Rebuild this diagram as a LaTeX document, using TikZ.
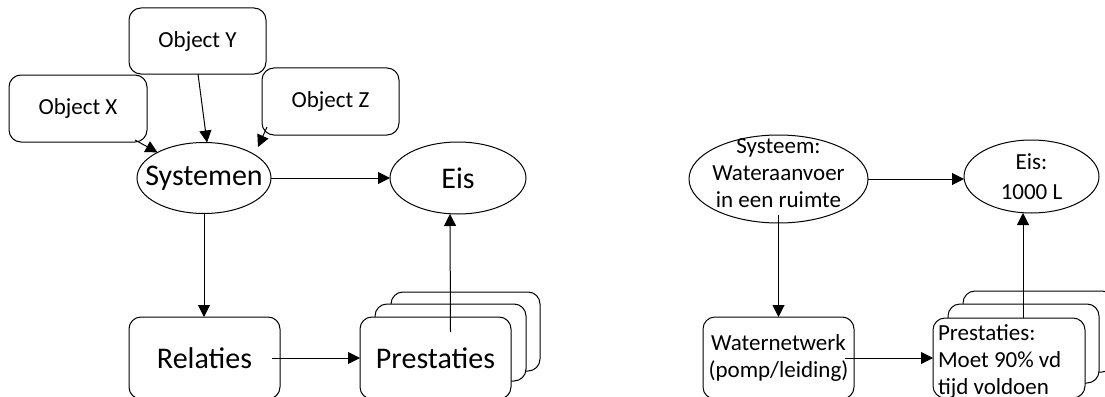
\documentclass[tikz,border=0pt]{standalone}
\usepackage{fontspec}
\setmainfont{Carlito}
\usetikzlibrary{arrows.meta,shapes.geometric}
\begin{document}
\begin{tikzpicture}[x=1pt,y=-1pt,
  every node/.style={inner sep=0pt, outer sep=0pt},
  frame/.style={draw=black, line width=1pt, fill=white},
  card/.style={frame, rectangle, rounded corners=12pt},
  oval/.style={frame, ellipse},
  small/.style={font=\fontsize{23}{27}\selectfont},
  big/.style={font=\fontsize{30}{36}\selectfont},
  link/.style={draw=black, line width=1pt, -{Triangle[length=12pt,width=12pt]}}]
\useasboundingbox[fill=white] (0,0) rectangle (1105,396);

% ---- general scheme ----
\node[card, small, minimum width=138pt, minimum height=67pt] (ox) at (78,108.5) {Object X};
\node[card, small, minimum width=137pt, minimum height=66pt] (oy) at (197.5,41) {Object Y};
\node[card, small, minimum width=137pt, minimum height=67pt] (oz) at (330.5,101.5) {Object Z};

\node[oval, minimum width=134pt, minimum height=71pt] (sys) at (204,178) {};
\node[big] (systxt) at (sys) {Systemen};
\node[oval, minimum width=136pt, minimum height=72pt] (eis) at (458,178) {};
\node[big] (eistxt) at (eis) {Eis};

\node[card, big, minimum width=151pt, minimum height=82pt] (rel) at (204.5,358) {Relaties};

% stacked performance cards
\node[card, minimum width=149pt, minimum height=79pt] (pb) at (465.5,331.5) {};
\node[card, minimum width=151pt, minimum height=77pt] (pm) at (450.5,342.5) {};
\node[card, big, minimum width=151pt, minimum height=82pt] (pf) at (435.5,358) {Prestaties};

\draw[link] ([xshift=-12pt,yshift=2pt]ox.south east) -- (sys);
\draw[link] ([xshift=0.5pt]oy.south) -- ([xshift=3pt]sys.north);
\draw[link] ([xshift=5pt,yshift=8pt]oz.south west) -- ([xshift=54pt,yshift=31pt]sys.center);
\draw[link] (sys.east) -- (eis.west);
\draw[link] (sys.south) -- (sys.south |- rel.north);
\draw[link] ([xshift=-8pt]rel.east) -- (pf.west);
\draw[link] ([xshift=15pt,yshift=-15pt]pf.north) -- ([xshift=-8pt]eis.south);

% ---- water supply example ----
\node[oval, minimum width=179pt, minimum height=88pt] (sys2) at (778.5,179) {};
\node[small, align=center] (sys2txt) at ([yshift=6pt]sys2.center) {Systeem:\\Wateraanvoer\\in een ruimte};
\node[oval, minimum width=135pt, minimum height=73pt] (eis2) at (1031.5,176.5) {};
\node[font=\fontsize{23}{30}\selectfont, align=center] (eis2txt) at (eis2) {Eis:\\1000 L};

\node[card, small, align=center, minimum width=151pt, minimum height=82pt] (wn) at (778.5,358) {Waternetwerk\\(pomp/leiding)};

\node[card, minimum width=151pt, minimum height=81pt] (pb2) at (1038.5,331.5) {};
\node[card, minimum width=151pt, minimum height=79pt] (pm2) at (1023.5,343.5) {};
\node[card, minimum width=152pt, minimum height=80pt] (pf2) at (1009,358) {};
\node[small, align=left, anchor=west] (pf2txt) at ([xshift=5pt,yshift=-4pt]pf2.west) {Prestaties:\\Moet 90\% vd\\tijd voldoen};

\draw[link] (sys2.east) -- (sys2.east -| eis2.west);
\draw[link] ([yshift=8pt]sys2.south) -- (wn.north);
\draw[link] ([xshift=-9pt]wn.east) -- (pf2.west);
\draw[link] ([xshift=14pt]pf2.north) -- ([xshift=-8.5pt]eis2.south);
\end{tikzpicture}
\end{document}
